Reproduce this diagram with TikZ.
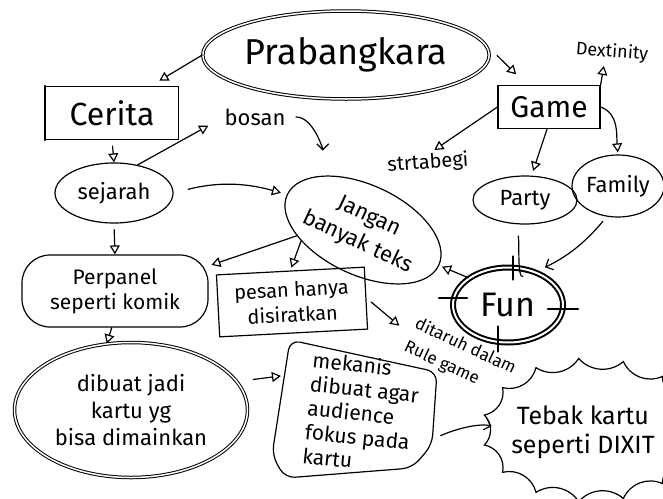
\documentclass[tikz,border=0pt]{standalone}
\usepackage{fontspec}
\setmainfont{Fira Sans}
\usepackage{tikz}
\usetikzlibrary{arrows.meta,shapes}

\begin{document}
\begin{tikzpicture}[x=1pt,y=-1pt,line width=1.2pt,line cap=round,
tri/.style={-{Triangle[open,length=9pt,width=10pt]}},
vee/.style={-{Straight Barb[length=6pt,width=12pt]}},
oval/.style={ellipse,draw,inner sep=0pt,align=center},
box/.style={rectangle,draw,inner sep=0pt,align=center},
txt/.style={align=center,inner sep=0pt}]
\useasboundingbox(0,0)rectangle(663,498);
\clip(0,0)rectangle(663,498);
% top
\node[oval,double,double distance=1.5pt,line width=1pt,minimum width=262,minimum height=88,font=\fontsize{36}{40}\selectfont](prab)at(346,55){Prabangkara};
\node[box,minimum width=133,minimum height=53,font=\fontsize{32}{36}\selectfont](cerita)at(112,113){Cerita};
\draw[line width=2.4pt](cerita.north west)--(cerita.south west);
\node[txt,font=\fontsize{22}{24}\selectfont](bosan)at(255,117){bosan};
\node[box,minimum width=102,minimum height=43,font=\fontsize{30}{34}\selectfont](game)at(549,107){Game};
\node[txt,font=\fontsize{18}{20}\selectfont,rotate=-4](dext)at(612,52){Dextinity};
\node[txt,font=\fontsize{20}{22}\selectfont,rotate=4](strt)at(428,163){strtabegi};
% middle
\node[oval,minimum width=118,minimum height=60,font=\fontsize{22}{24}\selectfont](sejarah)at(114,193){sejarah};
\node[oval,minimum width=164,minimum height=90,rotate=-25,font=\fontsize{22}{28}\selectfont](jangan)at(363,230){Jangan\\banyak teks};
\node[oval,minimum width=104,minimum height=48,font=\fontsize{22}{24}\selectfont](party)at(525,200){Party};
\node[oval,minimum width=92,minimum height=62,font=\fontsize{22}{24}\selectfont](family)at(618,186){Family};
\node[oval,double,double distance=2pt,line width=2pt,minimum width=110,minimum height=75,font=\fontsize{34}{38}\selectfont](fun)at(508,305){Fun};
\draw[line width=2.6pt]([shift={(5,-10)}]fun.north)--([shift={(5,13)}]fun.north)
([shift={(-13,-7)}]fun.west)--([shift={(15,-7)}]fun.west)
([shift={(-16,4)}]fun.east)--([shift={(14,4)}]fun.east)
([shift={(-10,-17)}]fun.south)--([shift={(-10,8)}]fun.south);
\node[box,rounded corners=28pt,minimum width=186,minimum height=72,font=\fontsize{21}{25}\selectfont](perpanel)at(115,291){Perpanel\\seperti komik};
\node[box,rotate=3,minimum width=148,minimum height=62,font=\fontsize{20}{25}\selectfont](pesan)at(292,302){pesan hanya\\disiratkan};
\node[txt,rotate=-25,align=left,font=\fontsize{17}{25}\selectfont](ditaruh)at(460,358){ditaruh dalam\\Rule game};
% bottom
\node[oval,double,double distance=1.5pt,line width=1pt,minimum width=233,minimum height=135,font=\fontsize{22}{27}\selectfont](dibuat)at(131,410){dibuat jadi\\kartu yg\\bisa dimainkan};
\node[txt,align=left,rotate=-6,minimum width=160,minimum height=135,font=\fontsize{21}{24}\selectfont](mekanis)at(362,413){mekanis\\dibuat agar\\audience\\fokus pada\\kartu};
\draw[rounded corners=10pt](290,340)--(437,372)--(432,445)--(412,468)--(285,478)--(272,455)--cycle;
\node[txt,font=\fontsize{25}{29}\selectfont](tebak)at(583,432){Tebak kartu\\seperti DIXIT};
\draw[shift={(590,430)}](0:108 and 72)\foreach\a in{24,48,...,360}{to[bend right=45](\a:108 and 72)};
% arrows
\draw[tri,shorten >=10pt](prab.west)--(cerita.35);
\draw[tri,shorten <=18pt,shorten >=15pt](prab.5)--(game.135);
\draw[tri,shorten <=6pt](cerita.south)--(sejarah.north);
\draw[tri,shorten >=18pt](sejarah.50)--(bosan.west);
\draw[vee,shorten <=10pt,shorten >=25pt](bosan.east)to[out=0,in=90](jangan.north west);
\draw[tri,shorten <=15pt,shorten >=6pt](sejarah.east)to[bend left=15](jangan.west);
\draw[tri,shorten <=6pt](sejarah.south)--(perpanel.north);
\draw[tri,shorten >=3pt](jangan.210)--(perpanel.15);
\draw[tri,shorten >=3pt](jangan.215)--(pesan.north);
\draw[tri,shorten >=3pt](fun.north west)--(jangan.east);
\draw[tri,shorten >=4pt](game.west)--(strt.70);
\draw[tri,shorten >=5pt](game.265)--(party.75);
\draw[tri,shorten >=2pt](game.east)to[out=-20,in=95](family.north);
\draw[tri,shorten >=5pt](game.north east)--(dext.235);
\draw[shorten <=12pt,shorten >=14pt](party.250)to[out=-80,in=200](fun.50);
\draw[vee,shorten <=6pt,shorten >=10pt](family.250)to[bend left=12](fun.50);
\draw[tri,shorten <=6pt,shorten >=14pt](pesan.east)--(ditaruh.west);
\draw[tri,shorten <=16pt,shorten >=4pt](dibuat.15)--(mekanis.160);
\draw[vee,shorten >=20pt](mekanis.-10)to[bend left=20](tebak.west);
\draw[tri](perpanel.265)--(dibuat.110);
\end{tikzpicture}
\end{document}
